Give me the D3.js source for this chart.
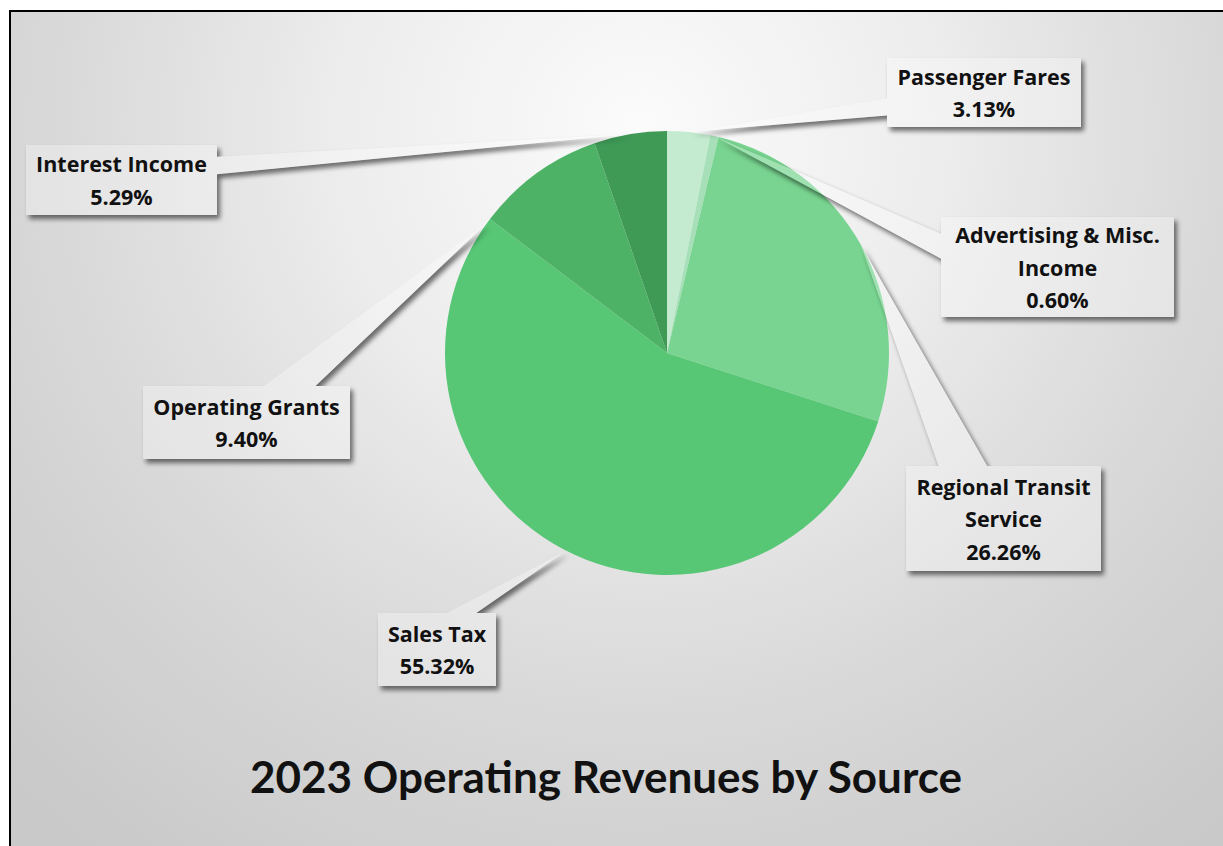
<!DOCTYPE html>
<html>
<head>
<meta charset="utf-8">
<script src="https://cdn.jsdelivr.net/npm/d3@7"></script>
<style>
  html, body { margin: 0; padding: 0; background: #ffffff; }
  svg { display: block; }
  text { font-weight: 700; fill: #111111; }
  text.lbl { font-family: "Open Sans", Lato, sans-serif; }
  text.title { font-family: Lato, "Open Sans", sans-serif; }
</style>
</head>
<body>
<svg id="chart" width="1223" height="846"></svg>
<script>
// Revenue sources, in drawing order clockwise from 12 o'clock
const categories = [
  "Passenger Fares",
  "Advertising & Misc. Income",
  "Regional Transit Service",
  "Sales Tax",
  "Operating Grants",
  "Interest Income"
];
// Share of 2023 operating revenues, percent
const shares = [3.13, 0.60, 26.26, 55.32, 9.40, 5.29];
// How each category name wraps inside its callout
const labelLines = [
  ["Passenger Fares"],
  ["Advertising & Misc.", "Income"],
  ["Regional Transit", "Service"],
  ["Sales Tax"],
  ["Operating Grants"],
  ["Interest Income"]
];
const chartTitle = "2023 Operating Revenues by Source";

// Slice colours
const sliceColors = ["#c4ebcf", "#a7e0b8", "#78d490", "#57c675", "#4db266", "#3f9a56"];

// Callout boxes (centre, size) and where the pointer lands (degrees, null = slice middle)
const callouts = [
  { cx: 984,    cy: 92.5,  w: 194, h: 69,  tip: null },
  { cx: 1057.5, cy: 267,   w: 233, h: 100, tip: null },
  { cx: 1003.5, cy: 518.5, w: 195, h: 105, tip: null },
  { cx: 437,    cy: 649.5, w: 118, h: 73,  tip: 207 },
  { cx: 246.5,  cy: 422.5, w: 207, h: 73,  tip: 306 },
  { cx: 121.5,  cy: 180,   w: 191, h: 70,  tip: null }
];

const W = 1223, H = 846;
const center = [667, 353];
const radius = 222;

const svg = d3.select("#chart");
const defs = svg.append("defs");

// Chart area background: soft radial grey
const bg = defs.append("radialGradient")
  .attr("id", "bgGrad")
  .attr("gradientUnits", "userSpaceOnUse")
  .attr("cx", 640).attr("cy", 130).attr("r", 900);
[[0, "#fbfbfb"], [0.33, "#ededed"], [0.56, "#dedede"], [0.7, "#d6d6d6"], [1, "#c9c9c9"]]
  .forEach(([o, c]) => bg.append("stop").attr("offset", o).attr("stop-color", c));

// Shadow that only shows outside the shape
const sh = defs.append("filter").attr("id", "outShadow")
  .attr("x", "-20%").attr("y", "-20%").attr("width", "140%").attr("height", "140%");
sh.append("feGaussianBlur").attr("in", "SourceAlpha").attr("stdDeviation", 2.5).attr("result", "blur");
sh.append("feOffset").attr("in", "blur").attr("dx", 3).attr("dy", 4).attr("result", "off");
sh.append("feComposite").attr("in", "off").attr("in2", "SourceAlpha").attr("operator", "out").attr("result", "outer");
sh.append("feComponentTransfer").attr("in", "outer")
  .append("feFuncA").attr("type", "linear").attr("slope", 0.55);

svg.append("rect")
  .attr("x", 10).attr("y", 11).attr("width", W + 40).attr("height", H + 40)
  .attr("fill", "url(#bgGrad)")
  .attr("stroke", "#000000").attr("stroke-width", 2);

// Pie
const pie = d3.pie().sort(null).value(d => d).startAngle(0).endAngle(2 * Math.PI);
const arcs = pie(shares);
const arc = d3.arc().innerRadius(0).outerRadius(radius);

const g = svg.append("g").attr("transform", `translate(${center[0]},${center[1]})`);
g.selectAll("path.slice")
  .data(arcs)
  .join("path")
  .attr("class", "slice")
  .attr("d", arc)
  .attr("fill", (d, i) => sliceColors[i]);

// Rectangular callout with a wedge-shaped pointer
function calloutPath(c, tip) {
  const l = c.cx - c.w / 2, t = c.cy - c.h / 2, r = c.cx + c.w / 2, b = c.cy + c.h / 2;
  const [xp, yp] = tip;
  const dx = xp - c.cx, dy = yp - c.cy;
  const dq = dx * c.h / c.w;
  const p = d3.path();
  if (Math.abs(dy) > Math.abs(dq)) {
    const x1 = l + c.w * (dx > 0 ? 7 : 2) / 12;
    const x2 = l + c.w * (dx > 0 ? 10 : 5) / 12;
    if (dy < 0) {
      p.moveTo(l, t); p.lineTo(x1, t); p.lineTo(xp, yp); p.lineTo(x2, t);
      p.lineTo(r, t); p.lineTo(r, b); p.lineTo(l, b);
    } else {
      p.moveTo(l, t); p.lineTo(r, t); p.lineTo(r, b); p.lineTo(x2, b);
      p.lineTo(xp, yp); p.lineTo(x1, b); p.lineTo(l, b);
    }
  } else {
    const y1 = t + c.h * (dy > 0 ? 7 : 2) / 12;
    const y2 = t + c.h * (dy > 0 ? 10 : 5) / 12;
    if (dx < 0) {
      p.moveTo(l, t); p.lineTo(r, t); p.lineTo(r, b); p.lineTo(l, b);
      p.lineTo(l, y2); p.lineTo(xp, yp); p.lineTo(l, y1);
    } else {
      p.moveTo(l, t); p.lineTo(r, t); p.lineTo(r, y1); p.lineTo(xp, yp);
      p.lineTo(r, y2); p.lineTo(r, b); p.lineTo(l, b);
    }
  }
  p.closePath();
  return p.toString();
}

const labelData = arcs.map((a, i) => {
  const c = callouts[i];
  const ang = c.tip == null ? (a.startAngle + a.endAngle) / 2 : c.tip * Math.PI / 180;
  const pt = d3.pointRadial(ang, radius);
  return {
    c, name: labelLines[i], value: shares[i],
    tip: [center[0] + pt[0], center[1] + pt[1]]
  };
});

const lab = svg.append("g").attr("class", "callouts");
// shadows first, then the translucent shapes
lab.selectAll("path.shadow")
  .data(labelData)
  .join("path")
  .attr("class", "shadow")
  .attr("d", d => calloutPath(d.c, d.tip))
  .attr("fill", "#000")
  .attr("filter", "url(#outShadow)");
lab.selectAll("path.box")
  .data(labelData)
  .join("path")
  .attr("class", "box")
  .attr("d", d => calloutPath(d.c, d.tip))
  .attr("fill", "#ffffff")
  .attr("fill-opacity", 0.3);

const lineGap = 32.5;
lab.selectAll("text.lbl")
  .data(labelData)
  .join("text")
  .attr("class", "lbl")
  .attr("text-anchor", "middle")
  .attr("font-size", 21.5)
  .each(function (d) {
    const lines = d.name.concat([d.value.toFixed(2) + "%"]);
    const n = lines.length;
    const sel = d3.select(this);
    lines.forEach((ln, k) => {
      sel.append("tspan")
        .attr("x", d.c.cx)
        .attr("y", d.c.cy + 8.5 + (k - (n - 1) / 2) * lineGap)
        .text(ln);
    });
  });

svg.append("text")
  .attr("class", "title")
  .attr("x", 606)
  .attr("y", 793)
  .attr("text-anchor", "middle")
  .attr("font-size", 44)
  .text(chartTitle);
</script>
</body>
</html>
